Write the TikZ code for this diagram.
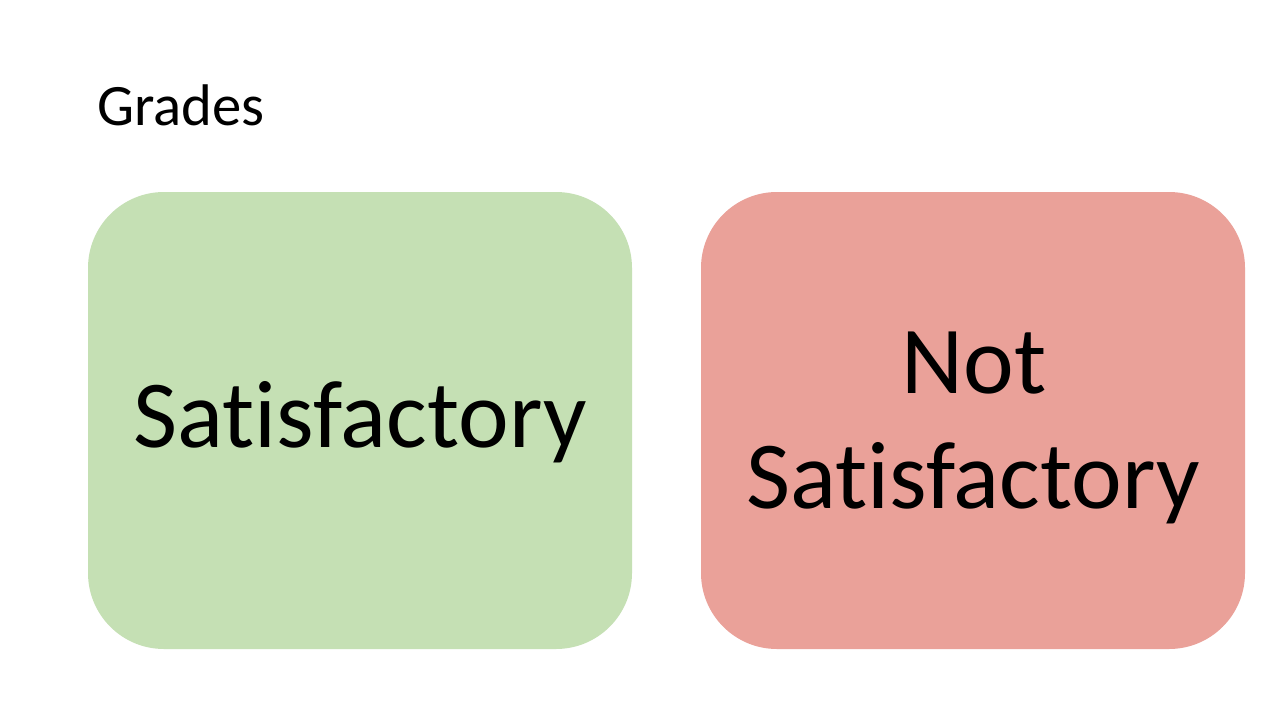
\documentclass[tikz,border=0pt]{standalone}
\usepackage{fontspec}
\setmainfont{Carlito}[Ligatures={NoCommon}]
\definecolor{satgreen}{HTML}{C5E0B4}
\definecolor{notsatred}{HTML}{EAA199}
\begin{document}
\begin{tikzpicture}[x=1pt,y=-1pt]
\tikzset{
  card/.style={rounded corners=76pt, minimum width=544pt, minimum height=457pt, inner sep=0pt, draw=none},
  bigtext/.style={font=\fontsize{96}{115}\selectfont, anchor=base, inner sep=0pt},
  titletext/.style={font=\fontsize{58.7}{70}\selectfont, anchor=base west, inner sep=0pt}
}
\useasboundingbox (0,0) rectangle (1280,720);
\fill[white] (0,0) rectangle (1280,720);
\node[card, fill=satgreen] (sat) at (360,420.5) {};
\node[card, fill=notsatred] (ns) at (973,420.5) {};
\node[bigtext] (t1) at (360,447) {Satisfactory};
\node[bigtext] (t2) at (974,393) {Not};
\node[bigtext] (t3) at (973,508) {Satisfactory};
\node[titletext] (title) at (97,125) {Grades};
\end{tikzpicture}
\end{document}
